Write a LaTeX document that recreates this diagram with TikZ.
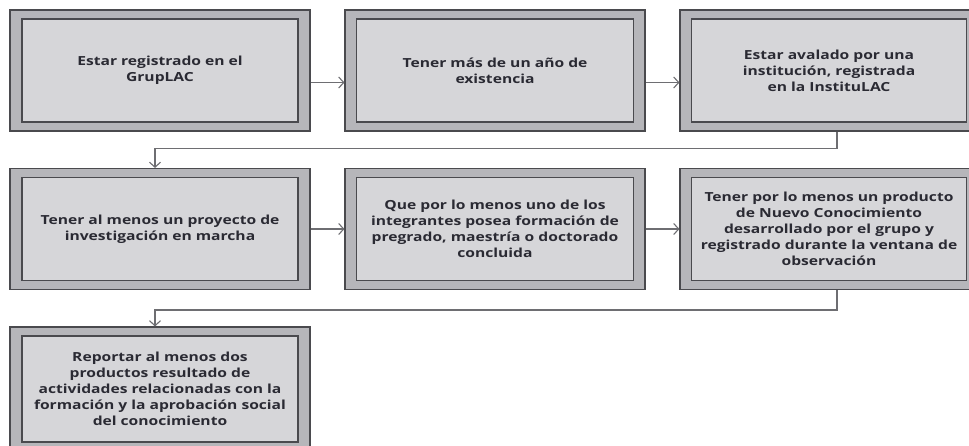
\documentclass[tikz,border=0pt]{standalone}
\usepackage{fontspec}
\setmainfont{Open Sans}[FakeStretch=1.25]
\usetikzlibrary{arrows.meta}
\definecolor{outerfill}{HTML}{B6B6BA}
\definecolor{innerfill}{HTML}{D6D6D9}
\definecolor{edge}{HTML}{4A4A4E}
\definecolor{txt}{HTML}{2A2A33}
\definecolor{conn}{HTML}{6E6E72}
\tikzset{
  outerbox/.style={draw=edge, line width=1.1pt, fill=outerfill, minimum height=121pt, inner sep=0pt},
  innerbox/.style={draw=edge, line width=1.6pt, fill=innerfill, minimum height=103pt, inner sep=0pt,
    align=center, text=txt, font=\bfseries\fontsize{12.5}{16}\selectfont},
  arr/.style={draw=conn, line width=1.2pt, -{Straight Barb[length=5pt,width=11pt,line width=1.1pt]}},
  ln/.style={draw=conn, line width=1.2pt}
}
\begin{document}
\begin{tikzpicture}[x=1pt,y=-1pt]
\useasboundingbox (0,0) rectangle (969,445);
\clip (0,0) rectangle (969,445);
\fill[white] (0,0) rectangle (969,445);
% row 1
\node[outerbox, minimum width=300pt] (b1) at (160,70.5) {};
\node[innerbox, minimum width=276pt] (i1) at (b1) {Estar registrado en el\\GrupLAC};
\node[outerbox, minimum width=300pt] (b2) at (495,70.5) {};
\node[innerbox, minimum width=277pt] (i2) at (b2) {Tener más de un año de\\existencia};
\node[outerbox, minimum width=298pt] (b3) at (829,70.5) {};
\node[innerbox, minimum width=275pt] (i3) at (b3) {Estar avalado por una\\institución, registrada\\en la InstituLAC};
% row 2
\node[outerbox, minimum width=300pt] (b4) at (160,229) {};
\node[innerbox, minimum width=276pt] (i4) at (b4) {Tener al menos un proyecto de\\investigación en marcha};
\node[outerbox, minimum width=300pt] (b5) at (495,229) {};
\node[innerbox, minimum width=277pt] (i5) at (b5) {Que por lo menos uno de los\\integrantes posea formación de\\pregrado, maestría o doctorado\\concluida};
\node[outerbox, minimum width=298pt] (b6) at (829,229) {};
\node[innerbox, minimum width=275pt] (i6) at (b6) {Tener por lo menos un producto\\de Nuevo Conocimiento\\desarrollado por el grupo y\\registrado durante la ventana de\\observación};
% row 3
\node[outerbox, minimum width=300pt, minimum height=124pt] (b7) at (160,389) {};
\node[innerbox, minimum width=276pt, minimum height=106pt] (i7) at (b7) {Reportar al menos dos\\productos resultado de\\actividades relacionadas con la\\formación y la aprobación social\\del conocimiento};
% connectors
\path[arr] ([yshift=-12pt]b1.east) -- ([yshift=-12pt]b1.east -| b2.west);
\path[arr] ([yshift=-12pt]b2.east) -- ([yshift=-12pt]b2.east -| b3.west);
\coordinate (t1) at ([xshift=8pt,yshift=-17pt]b3.south);
\path[arr] ([xshift=8pt]b3.south) -- (t1) -| ([xshift=-5pt]b4.north);
\path[arr] (b4.east) -- (b4.east -| b5.west);
\path[arr] (b5.east) -- (b5.east -| b6.west);
\coordinate (t2) at ([xshift=8pt,yshift=-20pt]b6.south);
\path[arr] ([xshift=8pt]b6.south) -- (t2) -| ([xshift=-5pt]b7.north);
\end{tikzpicture}
\end{document}
